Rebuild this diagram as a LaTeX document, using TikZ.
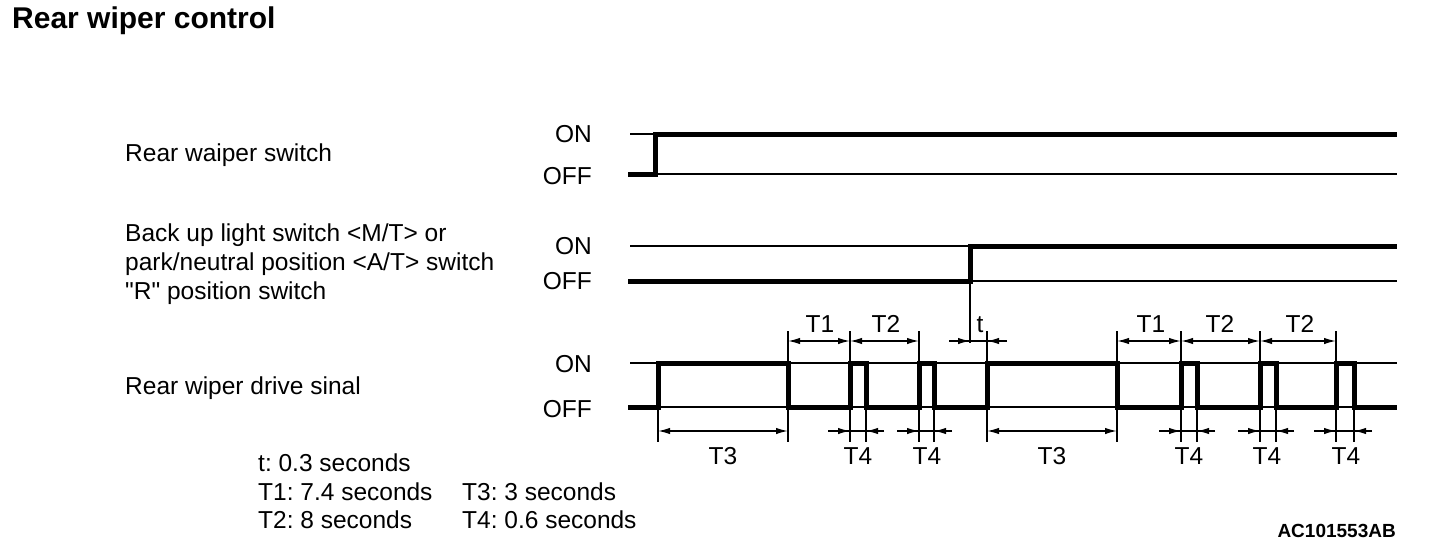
\documentclass[tikz,border=0pt]{standalone}
\usepackage{fontspec}
\setmainfont{Liberation Sans}[Ligatures=TeXOff]
\usetikzlibrary{arrows.meta}
\frenchspacing
\begin{document}
\begin{tikzpicture}[x=1pt,y=-1pt,
  sig/.style={line width=5pt,line join=miter,line cap=butt},
  ref/.style={line width=1.3pt},
  ext/.style={line width=1.3pt},
  tip/.style={line width=1.5pt,-{Latex[length=12pt,width=6.5pt]}},
  both/.style={line width=1.5pt,{Latex[length=12pt,width=6.5pt]}-{Latex[length=12pt,width=6.5pt]}},
  lbl/.style={font=\fontsize{24.5}{29}\selectfont,inner sep=0pt},
  lvl/.style={lbl,anchor=base east},
  tl/.style={lbl,anchor=base},
]
\useasboundingbox (0,0) rectangle (1440,554);

% title
\node[anchor=base west,inner sep=0pt,font=\fontsize{30}{35}\selectfont\bfseries] (title) at (12,28) {Rear wiper control};

% left labels
\node[lbl,anchor=base west] (l1) at (125,161) {Rear waiper switch};
\node[lbl,anchor=base west,align=left] (l2) at (125,299) {Back up light switch <M/T> or\\park/neutral position <A/T> switch\\"R" position switch};
\node[lbl,anchor=base west] (l3) at (125,394) {Rear wiper drive sinal};

% level labels
\node[lvl] (on1) at (592,142) {ON};
\node[lvl] (off1) at (592,184) {OFF};
\node[lvl] (on2) at (592,254) {ON};
\node[lvl] (off2) at (592,289) {OFF};
\node[lvl] (on3) at (592,372) {ON};
\node[lvl] (off3) at (592,417) {OFF};

% reference lines
\foreach \y in {134,174,246,281,363,407} \draw[ref] (630,\y) -- (1397,\y);

% signals
\draw[sig] (628,174) -| (655,134) -- (1397,134);
\draw[sig] (628,281) -| (970,246) -- (1397,246);
\draw[sig] (628,407) -| (658,363) -| (788,407) -| (850,363) -| (866,407)
  -| (919,363) -| (934,407) -| (987,363) -| (1117,407) -| (1181,363)
  -| (1197,407) -| (1260,363) -| (1276,407) -| (1336,363) -| (1354,407) -- (1397,407);

% upper extension lines
\foreach \x in {788,850,919,987,1117,1181,1260,1336} \draw[ext] (\x,331) -- (\x,363);
\draw[ext] (970,281) -- (970,343);

% upper dimensions
\draw[both] (788,341) -- (850,341);
\draw[both] (850,341) -- (919,341);
\draw[ext] (949,341) -- (1007,341);
\draw[tip] (949,341) -- (970,341);
\draw[tip] (1007,341) -- (987,341);
\draw[both] (1117,341) -- (1181,341);
\draw[both] (1181,341) -- (1260,341);
\draw[both] (1260,341) -- (1336,341);

\node[tl] (t1a) at (820,332) {T1};
\node[tl] (t2a) at (886,332) {T2};
\node[tl] (ta) at (980,332) {t};
\node[tl] (t1b) at (1151,332) {T1};
\node[tl] (t2b) at (1220,332) {T2};
\node[tl] (t2c) at (1300,332) {T2};

% lower extension lines
\foreach \x in {658,788,850,866,919,934,987,1117,1181,1197,1260,1276,1336,1354} \draw[ext] (\x,407) -- (\x,442);

% lower dimensions
\draw[both] (658,431) -- (788,431);
\draw[both] (987,431) -- (1117,431);
\foreach \a/\b in {850/866,919/934,1181/1197,1260/1276,1336/1354} {
  \draw[ext] (\a-22,431) -- (\b+18,431);
  \draw[tip] (\a-22,431) -- (\a,431);
  \draw[tip] (\b+18,431) -- (\b,431);
}

\node[tl] (t3a) at (723,464) {T3};
\node[tl] (t4a) at (858,464) {T4};
\node[tl] (t4b) at (927,464) {T4};
\node[tl] (t3b) at (1052,464) {T3};
\node[tl] (t4c) at (1189,464) {T4};
\node[tl] (t4d) at (1267,464) {T4};
\node[tl] (t4e) at (1346,464) {T4};

% legend
\node[lbl,anchor=base west] (lg1) at (258,471) {t: 0.3 seconds};
\node[lbl,anchor=base west] (lg2) at (258,500) {T1: 7.4 seconds};
\node[lbl,anchor=base west] (lg3) at (258,528) {T2: 8 seconds};
\node[lbl,anchor=base west] (lg4) at (462,500) {T3: 3 seconds};
\node[lbl,anchor=base west] (lg5) at (462,528) {T4: 0.6 seconds};

\node[anchor=base east,inner sep=0pt,font=\fontsize{19}{23}\selectfont\bfseries] (code) at (1396,537) {AC101553AB};
\end{tikzpicture}
\end{document}
